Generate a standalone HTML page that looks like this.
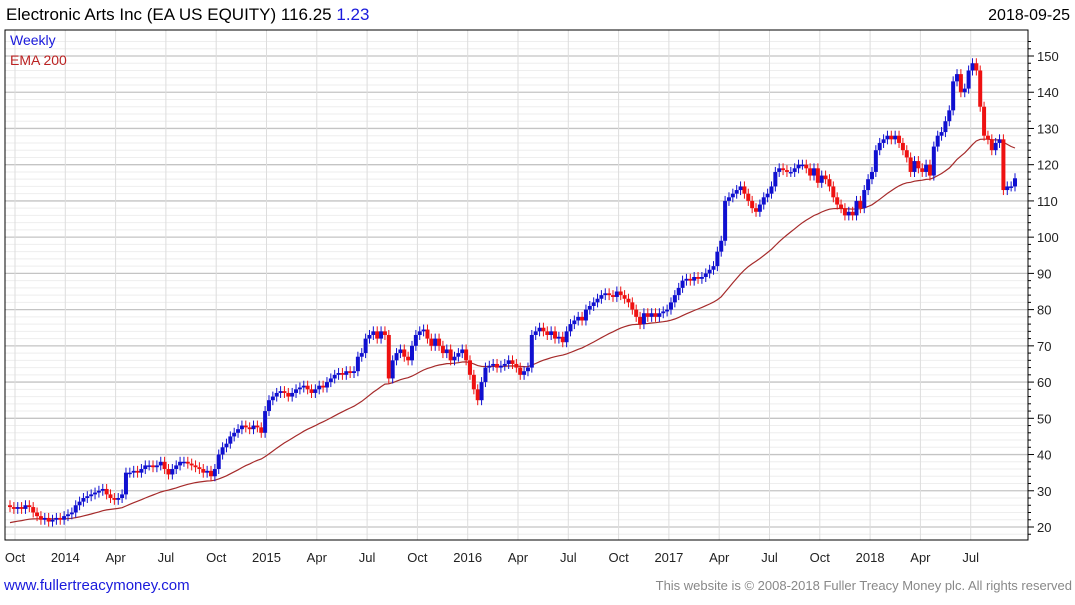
<!DOCTYPE html>
<html><head><meta charset="utf-8"><style>
body{margin:0;background:#fff;font-family:"Liberation Sans",sans-serif;}
#w{position:relative;width:1075px;height:600px;}
</style></head><body><div id="w">
<svg id="s" width="1075" height="600" xmlns="http://www.w3.org/2000/svg">
<text x="6" y="20" font-size="17" fill="#000">Electronic Arts Inc (EA US EQUITY) 116.25 <tspan fill="#1a1adc">1.23</tspan></text>
<text x="1070" y="20" font-size="16" text-anchor="end" fill="#000">2018-09-25</text>
<g id="grid"></g><g id="ema"></g><g id="candles"></g>
<rect x="5" y="30" width="1023" height="510" fill="none" stroke="#000"/>
<text x="10" y="45" font-size="14" fill="#1a1adc">Weekly</text>
<text x="10" y="65" font-size="14" fill="#b22">EMA 200</text>
<g id="axes"></g>
<text x="4" y="590" font-size="15" fill="#1a1adc">www.fullertreacymoney.com</text>
<text x="1072" y="590" font-size="13" text-anchor="end" fill="#888">This website is © 2008-2018 Fuller Treacy Money plc. All rights reserved</text>
</svg></div>
<script>
const closes=[25.5,25,25.5,25,26,25.5,24,23,22,22.5,21.5,22,22.5,22,
23,23.5,24,26,27,28,28.5,29,29.5,30,30.5,29,28,
27.5,28,29,35,35,35.5,35,36,37,37,36.5,37,38,
36,34.5,36,37,38,38,37.5,37,36.5,36,35,35.5,34,
36,40,42,43,45,46,47,48,47.5,47,48,47.5,46,
52,55,56,57,57.5,57,56,57,58,58.5,59,58,57,
58,59,58.5,60,61,62,62.5,62,63,62.5,63,67,68,
72,73,74,72,74,73,61,66,68,69,67,66,70,
73,74,74.5,72,70,72,70,68,69,66,67,68,69,
66,62,58,55,60,64,64.5,65,64,64.5,65,66,65,
64,62,63,64,73,74,75,74,73,74,72,72.5,71,
74,76,77,78,77,80,81,82,83,84,84.5,84,83.5,
85,84,83,82,80,78,76,79,78,79,78,79,79.5,
80,82,84,86,88,88.5,88,89,88.5,89,90,91,92,
96,99,110,111,112,113,114,112,110,108,107,109,111,
112,114,118,119,118.5,118,118,119,120,120,119,117,119,
115,117,116,114,111,109,108,106,107,106,110,108,113,
116,118,124,126,127,128,127,128,126,124,122,118,121,
119,118,120,117,125,128,129,132,135,143,145,140,141,
146,148,146,136,128,127,124,126,127,113,114,114,116.25];
const yTicks=[20,30,40,50,60,70,80,90,100,110,120,130,140,150];
const xLabels=["Oct","2014","Apr","Jul","Oct","2015","Apr","Jul","Oct","2016","Apr","Jul","Oct","2017","Apr","Jul","Oct","2018","Apr","Jul"];
const emaSeed=21;
const NS="http://www.w3.org/2000/svg";
function y(v){return 527-(v-20)*(471/130);}
function x(i){return 10+i*(1005/(closes.length-1));}
function lx(j){return 15+j*50.3;}
function mk(t,a,p){const e=document.createElementNS(NS,t);for(const k in a)e.setAttribute(k,a[k]);p.appendChild(e);return e;}
const G=document.getElementById('grid'),A=document.getElementById('axes');
for(let v=16;v<=154;v+=2){if(y(v)<31||y(v)>539)continue;const maj=v%10===0;
const l=mk('line',{x1:5,x2:1028,y1:y(v),y2:y(v),stroke:maj?'#c4c4c4':'#eeeeee','stroke-width':maj?1.3:1},G);

const t=mk('line',{x1:1028,x2:maj?1034:1031,y1:y(v),y2:y(v),stroke:'#000'},A);
}
yTicks.forEach(v=>{const t=mk('text',{x:1037,y:y(v)+5,'font-size':13,fill:'#222'},A);t.textContent=v;
});
xLabels.forEach((s,j)=>{const l=mk('line',{x1:lx(j),x2:lx(j),y1:30,y2:540,stroke:'#ddd'},G);

const t=mk('text',{x:lx(j),y:562,'font-size':13,'text-anchor':'middle',fill:'#222'},A);t.textContent=s;
});
const C=document.getElementById('candles');
let ema=emaSeed,pts=[];const k=2/41;
closes.forEach((c,i)=>{const o=i?closes[i-1]:c+0.5;const up=c>=o;const col=up?'#1010d0':'#ee1111';
const top=y(Math.max(o,c)),bot=y(Math.min(o,c));const xx=x(i);
const w=mk('line',{x1:xx,x2:xx,y1:top-5,y2:bot+5,stroke:col,'stroke-width':1},C);

const b=mk('rect',{x:xx-2,y:top,width:4,height:Math.max(1.5,bot-top),fill:col},C);

ema=ema+k*(c-ema);pts.push(xx.toFixed(1)+','+y(ema).toFixed(1));});
const p=mk('polyline',{points:pts.join(' '),fill:'none',stroke:'#a52a2a','stroke-width':1.2},document.getElementById('ema'));

</script></body></html>
